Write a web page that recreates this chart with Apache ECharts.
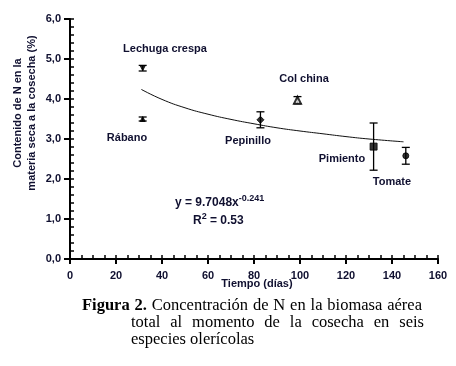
<!DOCTYPE html>
<html>
<head>
<meta charset="utf-8">
<script src="https://cdn.jsdelivr.net/npm/echarts@6/dist/echarts.min.js"></script>
<style>
  html, body { margin: 0; padding: 0; background: #fff; }
  #chart { width: 456px; height: 366px; }
</style>
</head>
<body>
<div id="chart"></div>
<script>
// datos
var especies = ['Lechuga crespa', 'Rábano', 'Pepinillo', 'Col china', 'Pimiento', 'Tomate'];
var tiempoDias = [31.6, 31.6, 82.8, 98.9, 132, 146];
var nitrogeno = [4.77, 3.50, 3.48, 3.97, 2.81, 2.58];
var errorN = [0.07, 0.05, 0.20, 0.09, 0.59, 0.21];

var tendX = [31, 40, 50, 60, 70, 80, 90, 100, 110, 120, 130, 145];
var tendY = [4.24, 3.99, 3.78, 3.62, 3.49, 3.38, 3.28, 3.20, 3.13, 3.06, 3.00, 2.93];

var chart = echarts.init(document.getElementById('chart'));

var simbolos = ['triangle', 'triangle', 'diamond', 'emptyTriangle', 'rect', 'circle'];
var tamanos = [5, 5, 7, 7, 7, 6];
var rotar = [180, 0, 0, 0, 0, 0];

var fuente = 'Liberation Sans, Arial, sans-serif';
var serif = '"Liberation Serif", "Times New Roman", serif';
var txt = '#101030';

var puntos = [];
var barras = [];
for (var i = 0; i < especies.length; i++) {
    puntos.push({
        value: [tiempoDias[i], nitrogeno[i]],
        symbol: simbolos[i],
        symbolSize: tamanos[i],
        symbolRotate: rotar[i]
    });
    barras.push([tiempoDias[i], nitrogeno[i] - errorN[i], nitrogeno[i] + errorN[i]]);
}

var tendencia = [];
for (var j = 0; j < tendX.length; j++) tendencia.push([tendX[j], tendY[j]]);

// eje principal: línea, marcas mayores hacia fuera y etiquetas
// eje secundario: sólo marcas cortas hacia dentro
function ejeX(principal) {
    return {
        type: 'value', min: 0, max: 160, interval: principal ? 20 : 5,
        position: 'bottom',
        axisLine: { show: principal, lineStyle: { color: '#000', width: 2 } },
        axisTick: { show: true, inside: !principal, length: principal ? 5 : 4, lineStyle: { color: '#000', width: principal ? 2 : 1.5 } },
        axisLabel: { show: principal, color: txt, fontFamily: fuente, fontWeight: 'bold', fontSize: 11, margin: 11 },
        splitLine: { show: false }
    };
}

function ejeY(principal) {
    return {
        type: 'value', min: 0, max: 6, interval: principal ? 1 : 0.2,
        position: 'left',
        axisLine: { show: principal, lineStyle: { color: '#000', width: 2 } },
        axisTick: { show: true, inside: !principal, length: principal ? 6 : 4, lineStyle: { color: '#000', width: principal ? 2 : 1.5 } },
        axisLabel: {
            show: principal, color: txt, fontFamily: fuente, fontWeight: 'bold', fontSize: 11, margin: 9,
            formatter: function (v) { return v.toFixed(1).replace('.', ','); }
        },
        splitLine: { show: false }
    };
}

var etiqueta = { fontFamily: fuente, fontWeight: 'bold', fontSize: 11, fill: txt, align: 'center', verticalAlign: 'middle' };
function rotulo(texto, x, y) {
    return { type: 'text', x: x, y: y, style: Object.assign({ text: texto }, etiqueta) };
}

// pie de figura justificado
var ctx = document.createElement('canvas').getContext('2d');
var tam = 16.5;
function justificar(palabras, x0, x1, y) {
    var anchos = palabras.map(function (p) {
        ctx.font = (p.b ? 'bold ' : '') + tam + 'px ' + serif;
        return ctx.measureText(p.t).width;
    });
    var total = anchos.reduce(function (a, b) { return a + b; }, 0);
    var hueco = (x1 - x0 - total) / (palabras.length - 1);
    var x = x0;
    return palabras.map(function (p, k) {
        var el = {
            type: 'text', x: x, y: y,
            style: { text: p.t, verticalAlign: 'middle', fontFamily: serif, fontSize: tam, fontWeight: p.b ? 'bold' : 'normal', fill: '#000' }
        };
        x += anchos[k] + hueco;
        return el;
    });
}
function palabras(s, b) {
    return s.split(' ').map(function (t) { return { t: t, b: b }; });
}

var pie = []
    .concat(justificar(palabras('Figura 2.', true).concat(palabras('Concentración de N en la biomasa aérea', false)), 82, 422, 306))
    .concat(justificar(palabras('total al momento de la cosecha en seis', false), 131, 424, 323))
    .concat([{ type: 'text', x: 131, y: 340, style: { text: 'especies olerícolas', verticalAlign: 'middle', fontFamily: serif, fontSize: tam, fill: '#000' } }]);

var option = {
    animation: false,
    backgroundColor: '#fff',
    grid: { left: 70, right: 18, top: 19, bottom: 107 },
    xAxis: [ejeX(true), ejeX(false)],
    yAxis: [ejeY(true), ejeY(false)],
    series: [
        {
            type: 'line',
            data: tendencia,
            smooth: true,
            showSymbol: false,
            lineStyle: { color: '#111', width: 1 },
            z: 2
        },
        {
            type: 'custom',
            data: barras,
            renderItem: function (params, api) {
                var x = api.value(0);
                var lo = api.coord([x, api.value(1)]);
                var hi = api.coord([x, api.value(2)]);
                var w = 4;
                var st = { stroke: '#000', lineWidth: 1.3 };
                return {
                    type: 'group',
                    children: [
                        { type: 'line', shape: { x1: lo[0], y1: lo[1], x2: hi[0], y2: hi[1] }, style: st },
                        { type: 'line', shape: { x1: lo[0] - w, y1: lo[1], x2: lo[0] + w, y2: lo[1] }, style: st },
                        { type: 'line', shape: { x1: hi[0] - w, y1: hi[1], x2: hi[0] + w, y2: hi[1] }, style: st }
                    ]
                };
            },
            z: 3
        },
        {
            type: 'scatter',
            data: puntos,
            itemStyle: { color: '#000', borderColor: '#000', borderWidth: 1 },
            z: 4
        }
    ],
    graphic: [
        {
            type: 'text', x: 25, y: 113, rotation: Math.PI / 2,
            style: {
                text: 'Contenido de N en la\nmateria seca a la cosecha (%)',
                align: 'center', verticalAlign: 'middle', lineHeight: 14,
                fontFamily: fuente, fontWeight: 'bold', fontSize: 11, fill: txt
            }
        },
        rotulo('Tiempo (días)', 257, 284),
        rotulo(especies[0], 165, 49),
        rotulo(especies[1], 127, 138),
        rotulo(especies[2], 248, 141),
        rotulo(especies[3], 304, 79),
        rotulo(especies[4], 342, 159),
        rotulo(especies[5], 392, 182),
        {
            type: 'text', x: 175, y: 203,
            style: {
                text: '{n|y = 9.7048x}{s|-0.241}',
                verticalAlign: 'middle',
                rich: {
                    n: { fontFamily: fuente, fontWeight: 'bold', fontSize: 12, fill: txt },
                    s: { fontFamily: fuente, fontWeight: 'bold', fontSize: 9, fill: txt, padding: [0, 0, 9, 0] }
                }
            }
        },
        {
            type: 'text', x: 193, y: 221,
            style: {
                text: '{n|R}{s|2}{n| = 0.53}',
                verticalAlign: 'middle',
                rich: {
                    n: { fontFamily: fuente, fontWeight: 'bold', fontSize: 12, fill: txt },
                    s: { fontFamily: fuente, fontWeight: 'bold', fontSize: 9, fill: txt, padding: [0, 0, 9, 0] }
                }
            }
        }
    ].concat(pie)
};

chart.setOption(option);
</script>
</body>
</html>
